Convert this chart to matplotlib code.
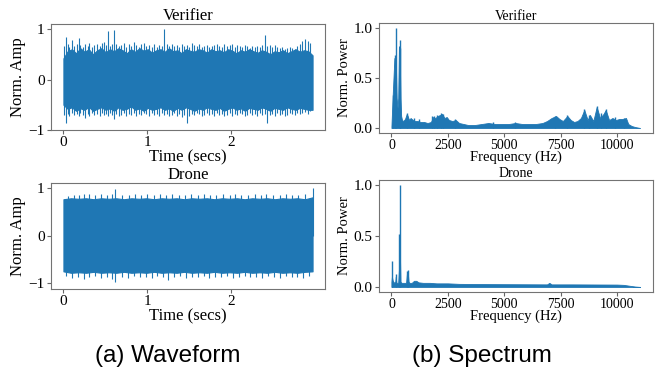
import numpy as np
import matplotlib
matplotlib.use("Agg")
import matplotlib.pyplot as plt

plt.rcParams['font.family'] = ['Liberation Serif', 'DejaVu Serif']
BLUE = '#1f77b4'

# ---- waveform data (envelope) ----
ver_body_up = [0.42, 0.56, 0.6, 0.52, 0.62, 0.55, 0.6, 0.5, 0.58, 0.62, 0.54, 0.6, 0.56, 0.62, 0.58, 0.52, 0.6,
               0.55, 0.62, 0.57, 0.6, 0.53, 0.58, 0.6, 0.55, 0.62, 0.56, 0.58, 0.52, 0.6, 0.57, 0.55, 0.6, 0.58,
               0.53, 0.6, 0.56, 0.58, 0.54, 0.6, 0.57, 0.52, 0.58, 0.55, 0.6, 0.56, 0.53, 0.58, 0.55, 0.5, 0.56,
               0.54, 0.58, 0.52, 0.56, 0.6, 0.55, 0.58, 0.56, 0.48]
ver_body_lo = [-0.5, -0.58, -0.55, -0.62, -0.57, -0.6, -0.54, -0.62, -0.58, -0.55, -0.6, -0.57, -0.62, -0.55, -0.6,
               -0.58, -0.53, -0.6, -0.57, -0.62, -0.56, -0.6, -0.58, -0.55, -0.6, -0.57, -0.62, -0.56, -0.6, -0.55,
               -0.58, -0.62, -0.57, -0.6, -0.55, -0.58, -0.6, -0.56, -0.62, -0.58, -0.55, -0.6, -0.57, -0.62, -0.56,
               -0.58, -0.6, -0.55, -0.58, -0.62, -0.56, -0.58, -0.6, -0.55, -0.58, -0.6, -0.56, -0.58, -0.6, -0.6]
ver_spk_t = [0.01, 0.03, 0.05, 0.07, 0.10, 0.13, 0.16, 0.18, 0.20, 0.23,
             0.26, 0.29, 0.31, 0.34, 0.37, 0.40, 0.43, 0.46, 0.48, 0.51,
             0.53, 0.56, 0.58, 0.60, 0.63, 0.66, 0.69, 0.72, 0.75, 0.78,
             0.81, 0.84, 0.87, 0.90, 0.93, 0.96, 0.99, 1.02, 1.05, 1.08,
             1.11, 1.14, 1.17, 1.20, 1.23, 1.26, 1.29, 1.32, 1.35, 1.38,
             1.41, 1.44, 1.47, 1.50, 1.53, 1.56, 1.59, 1.62, 1.65, 1.68,
             1.71, 1.74, 1.77, 1.80, 1.83, 1.86, 1.89, 1.92, 1.95, 1.98,
             2.01, 2.04, 2.07, 2.10, 2.13, 2.16, 2.19, 2.22, 2.25, 2.28,
             2.31, 2.34, 2.37, 2.40, 2.43, 2.46, 2.49, 2.52, 2.55, 2.58,
             2.61, 2.64, 2.67, 2.70, 2.73, 2.76, 2.79, 2.82, 2.85, 2.88,
             2.91, 2.94]
ver_up_v = [0.66, 0.84, 0.7, 0.64, 0.78, 0.66, 0.7, 0.82, 0.68, 0.64,
            0.7, 0.66, 0.72, 0.64, 0.68, 0.7, 0.66, 0.72, 0.74, 0.68,
            0.96, 0.66, 0.7, 0.99, 0.7, 0.66, 0.68, 0.72, 0.64, 0.7,
            0.66, 0.75, 0.68, 0.64, 0.7, 0.73, 0.66, 0.68, 0.64, 0.7,
            0.65, 0.68, 0.66, 1.0, 0.7, 0.66, 0.7, 0.66, 0.68, 0.64,
            0.7, 0.66, 0.68, 0.64, 0.72, 0.68, 0.66, 0.7, 0.64, 0.66,
            0.68, 0.64, 0.66, 0.68, 0.7, 0.66, 0.64, 0.7, 0.66, 0.68,
            0.7, 0.64, 0.68, 0.66, 0.64, 0.68, 0.66, 0.62, 0.66, 0.64,
            0.66, 0.64, 0.68, 0.89, 0.66, 0.68, 0.64, 0.68, 0.64, 0.62,
            0.64, 0.6, 0.62, 0.64, 0.62, 0.6, 0.66, 0.7, 0.76, 0.8,
            0.76, 0.72]
ver_lo_v = [-0.7, -0.87, -0.68, -0.72, -0.66, -0.7, -0.68, -0.72, -0.66, -0.7,
            -0.76, -0.68, -0.72, -0.66, -0.7, -0.68, -0.72, -0.66, -0.7, -0.68,
            -0.72, -0.66, -0.7, -0.78, -0.68, -0.72, -0.7, -0.66, -0.72, -0.68,
            -0.7, -0.66, -0.72, -0.68, -0.7, -0.66, -0.68, -0.72, -0.66, -0.7,
            -0.68, -0.72, -0.66, -0.7, -0.68, -0.72, -0.7, -0.66, -0.72, -0.68,
            -0.74, -0.7, -0.87, -0.72, -0.68, -0.7, -0.66, -0.68, -0.72, -0.7,
            -0.66, -0.7, -0.68, -0.72, -0.66, -0.7, -0.68, -0.72, -0.7, -0.66,
            -0.73, -0.68, -0.7, -0.66, -0.68, -0.72, -0.7, -0.66, -0.7, -0.68,
            -0.72, -0.66, -0.7, -0.68, -0.86, -0.7, -0.68, -0.72, -0.66, -0.7,
            -0.68, -0.72, -0.7, -0.66, -0.68, -0.7, -0.66, -0.68, -0.66, -0.64,
            -0.68, -0.62]

dro_body_up = [0.76, 0.78, 0.77, 0.78, 0.76, 0.78, 0.77, 0.78, 0.76, 0.78, 0.77, 0.78, 0.76, 0.78, 0.77, 0.78, 0.76,
               0.78, 0.77, 0.78, 0.76, 0.78, 0.77, 0.78, 0.76, 0.78, 0.77, 0.78, 0.76, 0.78, 0.77, 0.78, 0.76, 0.8]
dro_body_lo = [-0.75, -0.78, -0.77, -0.78, -0.76, -0.78, -0.77, -0.78, -0.76, -0.78, -0.77, -0.78, -0.76, -0.78,
               -0.77, -0.78, -0.76, -0.78, -0.77, -0.78, -0.76, -0.78, -0.77, -0.78, -0.76, -0.78, -0.77, -0.78,
               -0.76, -0.78, -0.77, -0.78, -0.76, -0.75]
dro_up_t = [0.05, 0.12, 0.18, 0.25, 0.3, 0.38, 0.45, 0.52, 0.58, 0.62, 0.7, 0.78, 0.85, 0.92, 1.0, 1.08, 1.15,
            1.22, 1.3, 1.38, 1.45, 1.52, 1.6, 1.68, 1.75, 1.82, 1.9, 1.98, 2.05, 2.12, 2.2, 2.28, 2.35, 2.42, 2.5,
            2.58, 2.65, 2.72, 2.8, 2.88, 2.97]
dro_up_v = [0.83, 0.85, 0.84, 0.86, 0.88, 0.84, 0.86, 0.85, 0.87, 0.97, 0.85, 0.84, 0.86, 0.85, 0.87, 0.84, 0.86,
            0.85, 0.88, 0.84, 0.85, 0.86, 0.84, 0.87, 0.85, 0.84, 0.86, 0.85, 0.88, 0.84, 0.85, 0.86, 0.84, 0.88,
            0.85, 0.84, 0.86, 0.85, 0.84, 0.86, 1.0]
dro_lo_t = [0.03, 0.1, 0.17, 0.24, 0.31, 0.38, 0.45, 0.52, 0.58, 0.62, 0.7, 0.77, 0.84, 0.91, 0.98, 1.05, 1.12,
            1.19, 1.25, 1.32, 1.39, 1.46, 1.53, 1.6, 1.67, 1.74, 1.81, 1.88, 1.95, 2.02, 2.09, 2.16, 2.23, 2.3,
            2.37, 2.44, 2.51, 2.58, 2.65, 2.72, 2.79, 2.86, 2.93]
dro_lo_v = [-0.85, -0.88, -0.86, -0.9, -0.87, -0.85, -0.88, -0.86, -0.9, -0.98, -0.86, -0.88, -0.85, -0.87, -0.86,
            -0.88, -0.85, -0.87, -0.93, -0.86, -0.85, -0.88, -0.86, -0.87, -0.85, -0.88, -0.86, -0.87, -0.85, -0.88,
            -0.86, -0.85, -0.87, -0.86, -0.88, -0.85, -0.86, -0.88, -0.85, -0.87, -0.86, -0.89, -0.85]

# ---- spectrum data ----
ver_f = [0, 50, 100, 130, 160, 190, 230, 270, 300, 330, 360, 400, 430, 470, 520, 600, 680, 720, 780, 850, 950,
         1050, 1150, 1300, 1450, 1600, 1750, 1850, 1950, 2050, 2150, 2250, 2350, 2450, 2550, 2700, 2850, 3000,
         3200, 3400, 3700, 4000, 4300, 4600, 4900, 5200, 5500, 5800, 6100, 6400, 6700, 6900, 7100, 7300, 7450,
         7600, 7800, 7950, 8100, 8250, 8400, 8550, 8700, 8800, 8950, 9100, 9250, 9400, 9500, 9650, 9800, 9950,
         10100, 10250, 10400, 10500, 10650, 10800, 11025]
ver_p = [0.02, 0.3, 0.55, 0.7, 0.58, 0.72, 0.3, 0.2, 0.3, 0.8, 0.82, 0.3, 0.12, 0.08, 0.07, 0.09, 0.14, 0.12,
         0.08, 0.1, 0.08, 0.07, 0.07, 0.06, 0.06, 0.05, 0.06, 0.11, 0.1, 0.12, 0.13, 0.14, 0.1, 0.11, 0.08, 0.07,
         0.08, 0.05, 0.04, 0.03, 0.03, 0.04, 0.05, 0.04, 0.04, 0.04, 0.05, 0.04, 0.04, 0.04, 0.05, 0.07, 0.1, 0.12,
         0.09, 0.07, 0.12, 0.08, 0.06, 0.07, 0.1, 0.18, 0.08, 0.13, 0.07, 0.21, 0.1, 0.14, 0.18, 0.08, 0.1, 0.08,
         0.09, 0.09, 0.1, 0.04, 0.02, 0.01, 0.0]
ver_spk_f = [60, 140, 200, 370, 400, 700, 1000, 1200, 1800, 1900, 2000, 2200, 2300, 2800, 4500, 5500, 7250,
             7800, 8550, 8750, 9100, 9300, 9500, 9900, 10300]
ver_spk_p = [0.33, 0.73, 1.0, 0.88, 0.8, 0.15, 0.1, 0.09, 0.12, 0.12, 0.13, 0.15, 0.14, 0.09, 0.06, 0.06, 0.12,
             0.13, 0.19, 0.13, 0.22, 0.15, 0.19, 0.11, 0.1]

dro_f = [0, 20, 60, 120, 170, 190, 220, 300, 340, 360, 400, 450, 550, 650, 690, 720, 760, 800, 900, 1000, 1100,
         1200, 1400, 1700, 2000, 2500, 3000, 4000, 5000, 6000, 6900, 7000, 7100, 8000, 9000, 10000, 10300,
         10600, 10800, 11025]
dro_p = [0.05, 0.1, 0.06, 0.04, 0.05, 0.1, 0.04, 0.04, 0.2, 0.5, 0.05, 0.04, 0.04, 0.04, 0.14, 0.15, 0.05, 0.04,
         0.04, 0.06, 0.06, 0.045, 0.04, 0.04, 0.035, 0.035, 0.03, 0.028, 0.027, 0.026, 0.025, 0.04, 0.025, 0.025,
         0.024, 0.023, 0.02, 0.01, 0.004, 0.0]
dro_spk_f = [10, 180, 350, 375, 700, 750]
dro_spk_p = [0.25, 0.13, 0.52, 1.0, 0.16, 0.17]

fig = plt.figure(figsize=(6.57, 3.71), dpi=100)
ax_vw = fig.add_axes([0.0776, 0.6496, 0.4171, 0.2857])
ax_dw = fig.add_axes([0.0776, 0.221, 0.4171, 0.2857])
ax_vs = fig.add_axes([0.5769, 0.6415, 0.4163, 0.2965])
ax_ds = fig.add_axes([0.5769, 0.2129, 0.4163, 0.3019])


def waveform(ax, up, lo, ut, uv, lt, lv, title, ylim):
    t = np.linspace(0, 2.97, len(up))
    ax.fill_between(t, lo, up, color=BLUE, lw=0.8)
    ax.vlines(ut, 0, uv, color=BLUE, lw=0.8)
    ax.vlines(lt, lv, 0, color=BLUE, lw=0.8)
    ax.set_xlim(-0.1485, 3.1185)
    ax.set_ylim(*ylim)
    ax.set_xticks([0, 1, 2])
    ax.set_yticks([-1, 0, 1])
    ax.set_title(title, fontsize=12, pad=3)
    ax.set_ylabel('Norm. Amp', fontsize=12, labelpad=2)
    ax.set_xlabel('Time (secs)', fontsize=12, labelpad=0)
    ax.tick_params(labelsize=11, length=3, pad=1.5, color='0.4')


def spectrum(ax, f, p, sf, sp, title):
    ax.fill_between(f, 0, p, color=BLUE, lw=0.6)
    ax.vlines(sf, 0, sp, color=BLUE, lw=1.0)
    ax.set_xlim(-551, 11576)
    ax.set_ylim(-0.05, 1.05)
    ax.set_xticks([0, 2500, 5000, 7500, 10000])
    ax.set_yticks([0, 0.5, 1.0])
    ax.set_yticklabels(['0.0', '0.5', '1.0'])
    ax.set_title(title, fontsize=10, pad=2)
    ax.set_ylabel('Norm. Power', fontsize=10.5, labelpad=2)
    ax.set_xlabel('Frequency (Hz)', fontsize=10.5, labelpad=-1)
    ax.tick_params(axis='x', labelsize=10, length=3, pad=1.5, color='0.4')
    ax.tick_params(axis='y', labelsize=11, length=3, pad=1.5, color='0.4')


waveform(ax_vw, ver_body_up, ver_body_lo, ver_spk_t, ver_up_v, ver_spk_t, ver_lo_v, 'Verifier', (-1.0, 1.1))
waveform(ax_dw, dro_body_up, dro_body_lo, dro_up_t, dro_up_v, dro_lo_t, dro_lo_v, 'Drone', (-1.12, 1.1))
spectrum(ax_vs, ver_f, ver_p, ver_spk_f, ver_spk_p, 'Verifier')
spectrum(ax_ds, dro_f, dro_p, dro_spk_f, dro_spk_p, 'Drone')

for ax in (ax_vw, ax_dw, ax_vs, ax_ds):
    for s in ax.spines.values():
        s.set_color('0.45')

fig.text(168 / 657, 0.04, '(a) Waveform', ha='center', va='center', fontsize=17.5, family='Liberation Sans')
fig.text(482 / 657, 0.04, '(b) Spectrum', ha='center', va='center', fontsize=17.5, family='Liberation Sans')

fig.savefig('out.png', dpi=100)
